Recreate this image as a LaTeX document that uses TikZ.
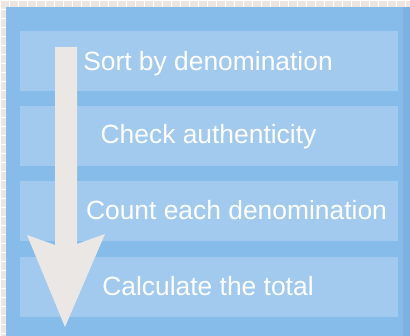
\documentclass[tikz,border=0pt]{standalone}
\usepackage{fontspec}
\setmainfont{Liberation Sans}
\definecolor{paper}{HTML}{EDE6E0}
\definecolor{panelblue}{HTML}{86BCE9}
\definecolor{stepblue}{HTML}{A2CAEF}
\definecolor{arrowgray}{HTML}{EAE7E4}
\begin{document}
\begin{tikzpicture}[x=1pt,y=-1pt]
    \tikzstyle{stepbox}=[rectangle, fill=stepblue, inner sep=0pt, minimum width=378pt, minimum height=60pt]
    \tikzstyle{steptext}=[text=white, inner sep=0pt, anchor=base, font=\fontsize{26.4}{30}\selectfont]

    \useasboundingbox (0,0) rectangle (410,336);
    % background
    \fill[paper] (0,0) rectangle (410,336);
    \draw[white, line width=0.6pt] (0,0) grid[step=9pt] (410,336);
    \fill[panelblue] (6,7) rectangle (410,336);
    \fill[blue!60!black, opacity=0.06] (403,7) rectangle (410,336);

    % steps
    \node[stepbox] (s1) at (209,61)  {};
    \node[stepbox] (s2) at (209,136) {};
    \node[stepbox] (s3) at (209,211.5) {};
    \node[stepbox] (s4) at (209,287) {};

    % arrow
    \fill[arrowgray] (55,47) -- (77,47) -- (77,244) -- (105,234) -- (65,327)
        -- (27,235) -- (55,245) -- cycle;

    \node[steptext] (t1) at (208,71)    {Sort by denomination};
    \node[steptext] (t2) at (208.5,144) {Check authenticity};
    \node[steptext] (t3) at (236.5,220) {Count each denomination};
    \node[steptext] (t4) at (208,296)   {Calculate the total};
\end{tikzpicture}
\end{document}
